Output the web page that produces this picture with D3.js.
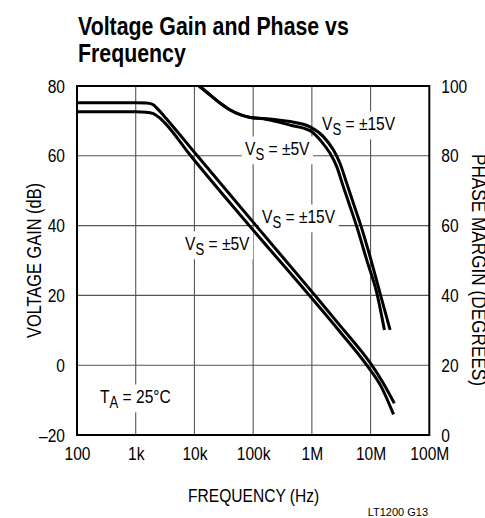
<!DOCTYPE html>
<html>
<head>
<meta charset="utf-8">
<script src="https://cdn.jsdelivr.net/npm/d3@7"></script>
<style>
  html, body { margin: 0; padding: 0; background: #fff; }
  svg { display: block; }
  text { font-family: "Liberation Sans", Arial, sans-serif; fill: #000; }
</style>
</head>
<body>
<svg id="chart" width="485" height="518"></svg>
<script>
// Frequency axis (Hz)
const freqTicks = [1e2, 1e3, 1e4, 1e5, 1e6, 1e7, 1e8];
const freqTickLabels = ["100", "1k", "10k", "100k", "1M", "10M", "100M"];
const gainTicks = [-20, 0, 20, 40, 60, 80];
const phaseTicks = [0, 20, 40, 60, 80, 100];

// Open-loop voltage gain (dB) vs frequency
const gain15Freq = [100, 1000, 1500, 1900, 2400, 3000, 11200, 112000, 1130000, 3000000, 10500000, 16000000, 25400000];
const gain15Db   = [75.2, 75.2, 75.1, 74.8, 73.3, 71.5, 60, 40, 20, 11.4, 0, -4.8, -10.9];
const gain5Freq  = [100, 1000, 1500, 2000, 2500, 3100, 8650, 86000, 906000, 3000000, 8600000, 15000000, 24600000];
const gain5Db    = [72.6, 72.6, 72.5, 72.1, 71.0, 69.5, 60, 40, 20, 9.6, 0, -6.0, -14.1];

// Phase margin (degrees) vs frequency
const phase15Freq = [11000, 12100, 18000, 28000, 40000, 60000, 90000, 150000, 250000, 425000, 931000, 1570000, 2320000, 3020000, 3930000, 5090000, 6620000, 9800000, 14500000, 21500000];
const phase15Deg  = [100.6, 100, 97.6, 95.0, 93.2, 91.8, 91.0, 90.7, 90.3, 89.8, 88.3, 85.5, 81.7, 77.8, 72.1, 66.4, 60.7, 51.1, 40.6, 30.1];
const phase5Freq  = [11000, 12100, 18000, 28000, 40000, 60000, 90000, 150000, 250000, 425000, 931000, 1470000, 2040000, 2650000, 3440000, 4480000, 5820000, 8610000, 12800000, 17200000];
const phase5Deg   = [100.6, 100, 97.6, 95.0, 93.2, 91.8, 91.0, 90.6, 89.8, 88.8, 87.2, 84.0, 80.7, 76.9, 71.1, 65.4, 59.7, 50.1, 40.6, 30.1];

const plot = { left: 77, right: 429.3, top: 86, bottom: 435 };
const NARROW = 0.82;   // horizontal squeeze for the condensed face

const x = d3.scaleLog().domain([1e2, 1e8]).range([plot.left, plot.right]);
const yGain = d3.scaleLinear().domain([-20, 80]).range([plot.bottom, plot.top]);
const yPhase = d3.scaleLinear().domain([0, 100]).range([plot.bottom, plot.top]);

const svg = d3.select("#chart");

svg.append("defs").append("clipPath").attr("id", "plotClip")
  .append("rect")
  .attr("x", plot.left).attr("y", plot.top)
  .attr("width", plot.right - plot.left).attr("height", plot.bottom - plot.top);

// condensed text placed at (px, py), optionally rotated
function narrowText(parent, px, py, size, rot, squeeze) {
  const s = squeeze || NARROW;
  return parent.append("text")
    .attr("transform", `translate(${px},${py})${rot ? ` rotate(${rot})` : ""} scale(${s},1)`)
    .attr("font-size", size);
}

// Title
const title = narrowText(svg, 78, 0, 26).attr("font-weight", "bold");
title.append("tspan").attr("x", 0).attr("y", 35).text("Voltage Gain and Phase vs");
title.append("tspan").attr("x", 0).attr("y", 61.7).text("Frequency");

// Grid
const grid = svg.append("g").attr("stroke", "#555").attr("stroke-width", 1.1);
grid.selectAll("line.v").data(freqTicks.slice(1, -1)).join("line")
  .attr("x1", d => x(d)).attr("x2", d => x(d))
  .attr("y1", plot.top).attr("y2", plot.bottom);
grid.selectAll("line.h").data(gainTicks.slice(1, -1)).join("line")
  .attr("x1", plot.left).attr("x2", plot.right)
  .attr("y1", d => yGain(d)).attr("y2", d => yGain(d));

// Knockout layer for in-plot labels (filled after text is measured)
const knockLayer = svg.append("g");

// Curves
const curveLine = d3.line().curve(d3.curveMonotoneX);
const curves = svg.append("g").attr("clip-path", "url(#plotClip)")
  .attr("fill", "none").attr("stroke", "#000").attr("stroke-width", 3)
  .attr("stroke-linejoin", "round");

function path(freqs, vals, yScale) {
  return curveLine(freqs.map((f, i) => [x(f), yScale(vals[i])]));
}
curves.append("path").attr("d", path(gain15Freq, gain15Db, yGain));
curves.append("path").attr("d", path(gain5Freq, gain5Db, yGain));
curves.append("path").attr("d", path(phase15Freq, phase15Deg, yPhase));
curves.append("path").attr("d", path(phase5Freq, phase5Deg, yPhase));

// Frame
svg.append("rect")
  .attr("x", plot.left).attr("y", plot.top)
  .attr("width", plot.right - plot.left).attr("height", plot.bottom - plot.top)
  .attr("fill", "none").attr("stroke", "#000").attr("stroke-width", 2);

// Axes
const pad = 12 / NARROW;
const fmtGain = d => d < 0 ? "\u2013" + Math.abs(d) : String(d);
const leftAxis = svg.append("g").attr("transform", `translate(${plot.left},0)`)
  .call(d3.axisLeft(yGain).tickValues(gainTicks).tickSize(0).tickPadding(pad).tickFormat(fmtGain));
const rightAxis = svg.append("g").attr("transform", `translate(${plot.right},0)`)
  .call(d3.axisRight(yPhase).tickValues(phaseTicks).tickSize(0).tickPadding(pad).tickFormat(d => String(d)));
const bottomAxis = svg.append("g").attr("transform", `translate(0,${plot.bottom})`)
  .call(d3.axisBottom(x).tickValues(freqTicks).tickSize(0).tickPadding(12)
    .tickFormat((d, i) => freqTickLabels[i]));
[leftAxis, rightAxis, bottomAxis].forEach(a => {
  a.attr("font-family", null).attr("font-size", null);
  a.select(".domain").remove();
  a.selectAll("text").attr("font-size", 19).attr("fill", "#000")
    .attr("transform", `scale(${NARROW},1)`);
});
leftAxis.selectAll("text").attr("x", -pad);
rightAxis.selectAll("text").attr("x", pad);

// Axis titles
narrowText(svg, 41, (plot.top + plot.bottom) / 2, 20, -90)
  .attr("text-anchor", "middle").text("VOLTAGE GAIN (dB)");
narrowText(svg, 472, 270, 20, 90, 0.86)
  .attr("text-anchor", "middle").text("PHASE MARGIN (DEGREES)");
narrowText(svg, (plot.left + plot.right) / 2 + 0.5, 501.7, 19)
  .attr("text-anchor", "middle").text("FREQUENCY (Hz)");
svg.append("text").attr("x", 428).attr("y", 516).attr("text-anchor", "end")
  .attr("font-size", 11).text("LT1200 G13");

// In-plot labels with subscripts
const labels = [
  { main: "V", sub: "S", rest: " = \u00b115V", x: 322, y: 130 },
  { main: "V", sub: "S", rest: " = \u00b15V", x: 245, y: 155 },
  { main: "V", sub: "S", rest: " = \u00b115V", x: 262, y: 223 },
  { main: "V", sub: "S", rest: " = \u00b15V", x: 185, y: 250 },
  { main: "T", sub: "A", rest: " = 25\u00b0C", x: 100, y: 403 }
];
const labelLayer = svg.append("g");
labels.forEach(l => {
  const t = narrowText(labelLayer, l.x, l.y, 19);
  t.append("tspan").text(l.main);
  t.append("tspan").attr("dy", 5).attr("font-size", 16).text(l.sub);
  t.append("tspan").attr("dy", -5).text(l.rest);
  const b = t.node().getBBox();
  knockLayer.append("g")
    .attr("transform", `translate(${l.x},${l.y}) scale(${NARROW},1)`)
    .append("rect")
    .attr("x", b.x - 4).attr("y", b.y - 1)
    .attr("width", b.width + 8).attr("height", b.height + 2)
    .attr("fill", "#fff");
});
</script>
</body>
</html>
